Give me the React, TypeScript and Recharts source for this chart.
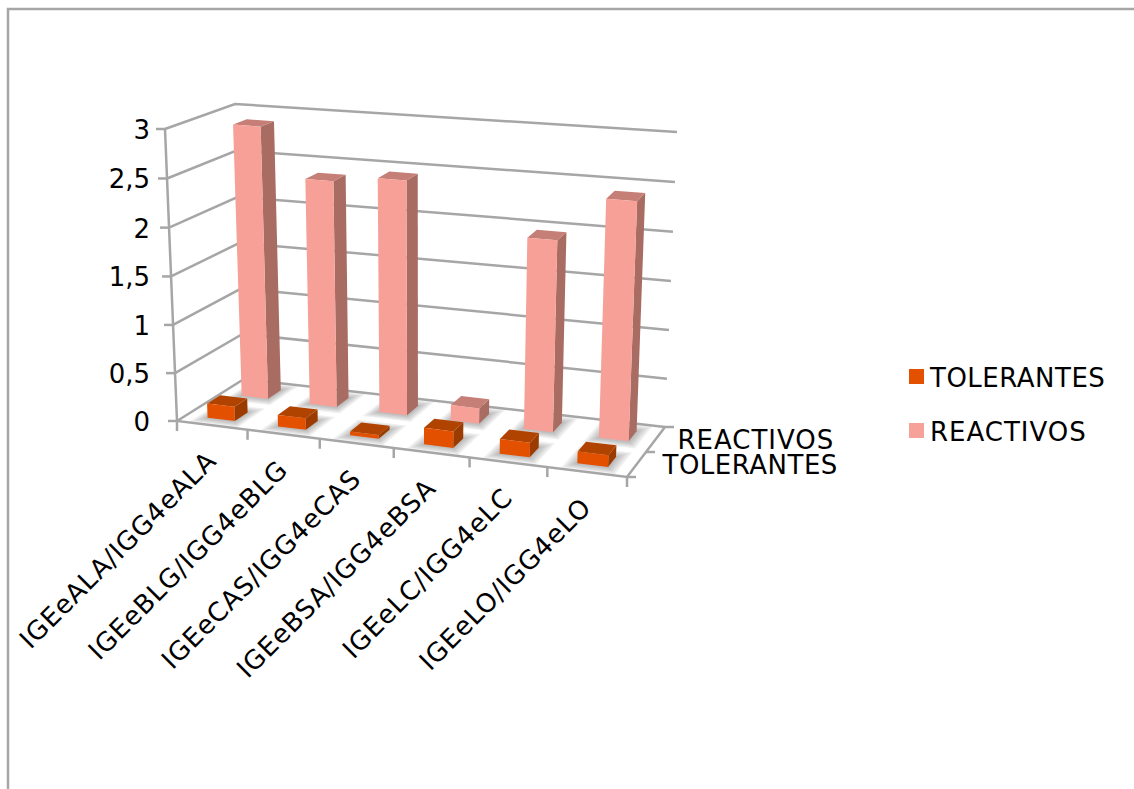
import { BarChart, Bar, XAxis, YAxis, CartesianGrid } from 'recharts';

const CATEGORIES = [
  'IGEeALA/IGG4eALA',
  'IGEeBLG/IGG4eBLG',
  'IGEeCAS/IGG4eCAS',
  'IGEeBSA/IGG4eBSA',
  'IGEeLC/IGG4eLC',
  'IGEeLO/IGG4eLO',
];
const TOLERANTES = [0.15, 0.12, 0.04, 0.17, 0.15, 0.12];
const REACTIVOS = [2.89, 2.38, 2.45, 0.16, 1.97, 2.43];
const VALUE_TICKS = [0, 0.5, 1, 1.5, 2, 2.5, 3];

const chartData = CATEGORIES.map((name, i) => ({
  name,
  TOLERANTES: TOLERANTES[i],
  REACTIVOS: REACTIVOS[i],
}));

const WIDTH = 1134;
const HEIGHT = 789;
const FONT = '"DejaVu Sans", Verdana, sans-serif';
const LINE = '#a6a6a6';

// flat plot area that the library lays out; everything is projected from it
const PLOT = { left: 60, top: 40, width: 1000, height: 600 };
const BAR_SIZE = 65;

// screen corners of the 3D box, [u v w] = across, up, into the page
const CORNERS: Record<string, [number, number]> = {
  '000': [177, 421],
  '100': [627, 477],
  '001': [244, 379],
  '101': [665, 427],
  '010': [165, 129],
  '110': [638, 172],
  '011': [235, 104],
  '111': [677, 132],
};

// perspective spacing along an edge
const warp = (t: number, r: number) => t / (r - (r - 1) * t);

function project(u: number, v: number, w: number): [number, number] {
  const a = warp(u, 1.076);
  const b = warp(v, 1.02);
  let x = 0;
  let y = 0;
  for (const key of Object.keys(CORNERS)) {
    const k =
      (key[0] === '1' ? a : 1 - a) *
      (key[1] === '1' ? b : 1 - b) *
      (key[2] === '1' ? w : 1 - w);
    x += k * CORNERS[key][0];
    y += k * CORNERS[key][1];
  }
  return [x, y];
}

const toU = (x: number) => (x - PLOT.left) / PLOT.width;
const toV = (y: number) => (PLOT.top + PLOT.height - y) / PLOT.height;
const pts = (list: [number, number][]) => list.map((p) => p.join(',')).join(' ');

interface BoxColors {
  front: string;
  top: string;
  side: string;
}

// nested footprints fade the floor shadow outwards
const SHADOW_STEPS = [1, 0.8, 0.6, 0.4, 0.2];

function Box3D(props: any & { depth: [number, number]; colors: BoxColors }) {
  const { x, y, width, height, depth, colors } = props;
  const u0 = toU(x);
  const u1 = toU(x + width);
  const v0 = toV(y + height);
  const v1 = toV(y);
  const [w0, w1] = depth;
  return (
    <g>
      {SHADOW_STEPS.map((s) => {
        const gu = 0.024 * s;
        const gw = 0.12 * s;
        return (
          <polygon
            key={s}
            points={pts([
              project(u0 - gu, 0, w0 - gw),
              project(u1 + gu, 0, w0 - gw),
              project(u1 + gu, 0, w1 + gw),
              project(u0 - gu, 0, w1 + gw),
            ])}
            fill="#444"
            opacity={0.08}
          />
        );
      })}
      <polygon
        points={pts([project(u1, v0, w0), project(u1, v0, w1), project(u1, v1, w1), project(u1, v1, w0)])}
        fill={colors.side}
      />
      <polygon
        points={pts([project(u0, v1, w0), project(u1, v1, w0), project(u1, v1, w1), project(u0, v1, w1)])}
        fill={colors.top}
      />
      <polygon
        points={pts([project(u0, v0, w0), project(u1, v0, w0), project(u1, v1, w0), project(u0, v1, w0)])}
        fill={colors.front}
      />
    </g>
  );
}

function WallLine(props: any) {
  const v = toV(props.y1);
  return (
    <polyline
      points={pts([project(0, v, 0), project(0, v, 1), project(1, v, 1)])}
      fill="none"
      stroke={LINE}
      strokeWidth={2.5}
    />
  );
}

function CategoryTick(props: any) {
  const { x, payload, index } = props;
  const half = 1 / (2 * CATEGORIES.length);
  const centre = toU(x);
  const [lx, ly] = project(centre, 0, 0);
  const edges = index === 0 ? [centre - half, centre + half] : [centre + half];
  return (
    <g>
      {edges.map((u) => {
        const [ex, ey] = project(u, 0, 0);
        return <line key={u} x1={ex} y1={ey} x2={ex} y2={ey + 10} stroke={LINE} strokeWidth={2.5} />;
      })}
      <text
        transform={`translate(${lx + 6},${ly + 37}) rotate(-45)`}
        textAnchor="end"
        fontFamily={FONT}
        fontSize={26}
        letterSpacing={0.9}
        fill="#000"
      >
        {payload.value}
      </text>
    </g>
  );
}

function ValueTick(props: any) {
  const { y, payload } = props;
  const [tx, ty] = project(0, toV(y), 0);
  return (
    <g>
      <line x1={tx - 9} y1={ty} x2={tx} y2={ty} stroke={LINE} strokeWidth={2.5} />
      <text x={150} y={ty + 10} textAnchor="end" fontFamily={FONT} fontSize={26} fill="#000">
        {String(payload.value).replace('.', ',')}
      </text>
    </g>
  );
}

// floor outline, vertical axis and the series ticks on the right edge
function Frame() {
  const seriesLabels = [
    { name: 'TOLERANTES', w: 0.25, dx: 26, spacing: 0.5 },
    { name: 'REACTIVOS', w: 0.75, dx: 22, spacing: 1 },
  ];
  return (
    <g>
      <path d={`M8 ${HEIGHT} V9 H${WIDTH}`} fill="none" stroke={LINE} strokeWidth={2.5} />
      <polyline
        points={pts([project(0, 1, 0), project(0, 0, 0), project(1, 0, 0), project(1, 0, 1)])}
        fill="none"
        stroke={LINE}
        strokeWidth={2.5}
      />
      {[0, 0.5, 1].map((w) => {
        const [x, y] = project(1, 0, w);
        return <line key={w} x1={x} y1={y} x2={x + 9} y2={y} stroke={LINE} strokeWidth={2.5} />;
      })}
      {seriesLabels.map((s) => {
        const [x, y] = project(1, 0, s.w);
        return (
          <text key={s.name} x={x + s.dx} y={y + 9} fontFamily={FONT} fontSize={26} letterSpacing={s.spacing} fill="#000">
            {s.name}
          </text>
        );
      })}
    </g>
  );
}

function LegendBlock() {
  const items = [
    { name: 'TOLERANTES', color: '#e25000', y: 369, spacing: 0.5 },
    { name: 'REACTIVOS', color: '#f6a29a', y: 423, spacing: 1 },
  ];
  return (
    <g>
      {items.map((item) => (
        <g key={item.name}>
          <rect x={909} y={item.y} width={15} height={15} fill={item.color} />
          <text x={930} y={item.y + 18} fontFamily={FONT} fontSize={26} letterSpacing={item.spacing} fill="#000">
            {item.name}
          </text>
        </g>
      ))}
    </g>
  );
}

const ORANGE: BoxColors = { front: '#e25000', top: '#b04300', side: '#9c3b00' };
const SALMON: BoxColors = { front: '#f6a097', top: '#c67f76', side: '#a86c62' };

export default function App() {
  return (
    <div style={{ position: 'absolute', left: 0, top: 0, width: WIDTH, height: HEIGHT, background: '#fff' }}>
      <BarChart
        width={WIDTH}
        height={HEIGHT}
        data={chartData}
        margin={{ top: PLOT.top, right: WIDTH - PLOT.left - PLOT.width, bottom: 0, left: 0 }}
        barSize={BAR_SIZE}
        barGap={-BAR_SIZE}
      >
        <Frame />
        <CartesianGrid vertical={false} horizontal={(p: any) => <WallLine key={p.key} {...p} />} />
        <XAxis
          dataKey="name"
          height={HEIGHT - PLOT.top - PLOT.height}
          interval={0}
          axisLine={false}
          tickLine={false}
          tick={(p: any) => <CategoryTick {...p} />}
        />
        <YAxis
          width={PLOT.left}
          domain={[0, 3]}
          ticks={VALUE_TICKS}
          interval={0}
          axisLine={false}
          tickLine={false}
          tick={(p: any) => <ValueTick {...p} />}
        />
        <Bar
          dataKey="REACTIVOS"
          isAnimationActive={false}
          shape={(p: any) => <Box3D {...p} depth={[0.66, 0.86]} colors={SALMON} />}
        />
        <Bar
          dataKey="TOLERANTES"
          isAnimationActive={false}
          shape={(p: any) => <Box3D {...p} depth={[0.14, 0.34]} colors={ORANGE} />}
        />
        <LegendBlock />
      </BarChart>
    </div>
  );
}
